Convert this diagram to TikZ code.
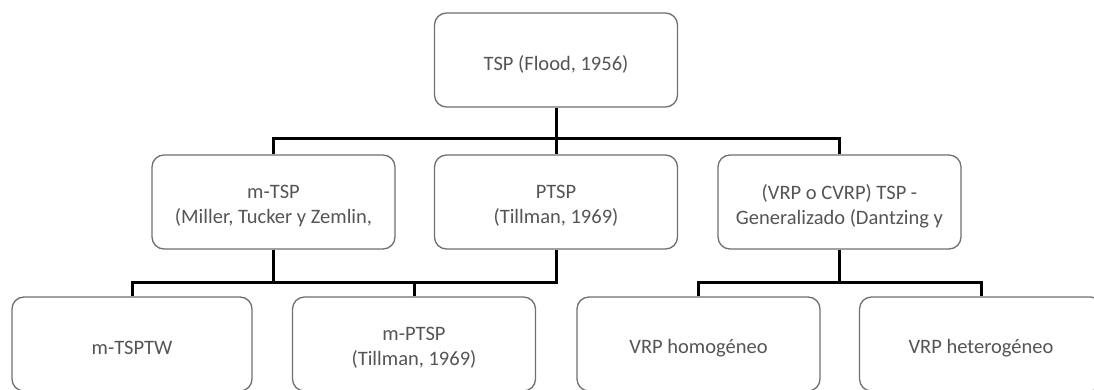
\documentclass[tikz,border=0pt]{standalone}
\usepackage{fontspec}
\setmainfont{Carlito}
\definecolor{txtgray}{HTML}{555555}
\definecolor{boxgray}{HTML}{707070}
\begin{document}
\begin{tikzpicture}[x=1pt,y=-1pt,
  box/.style={draw=boxgray, line width=1.3pt, rounded corners=12pt, fill=white,
    minimum width=243pt, minimum height=94pt, inner sep=0pt,
    label={[lbl]center:#1}},
  lbl/.style={align=center, inner sep=0pt, yshift=-4pt,
    text=txtgray, font=\fontsize{20.5}{25}\selectfont},
  conn/.style={draw=black, line width=3pt, line join=miter}]
\useasboundingbox (0,0) rectangle (1094,390);
\fill[white] (0,0) rectangle (1094,390);
% nodes
\node[box={TSP (Flood, 1956)}] (top) at (556,60) {};
\node[box={m-TSP\\(Miller, Tucker y Zemlin,}] (m1) at (273.5,202) {};
\node[box={PTSP\\(Tillman, 1969)}] (m2) at (556,202) {};
\node[box={(VRP o CVRP) TSP -\\Generalizado (Dantzing y}] (m3) at (839.5,202) {};
\node[box={m-TSPTW}, minimum width=240pt] (b1) at (132,344) {};
\node[box={m-PTSP\\(Tillman, 1969)}] (b2) at (414,344) {};
\node[box={VRP homogéneo}] (b3) at (698.5,344) {};
\node[box={VRP heterogéneo}] (b4) at (981,344) {};
% junctions
\coordinate (j1) at (556,139);
\coordinate (j2) at (273.5,282);
\coordinate (j3) at (839.5,282);
% connectors
\draw[conn] (top.south) -- (j1);
\draw[conn] (m1.north) |- (j1) -| (m3.north);
\draw[conn] (j1) -- (m2.north);
\draw[conn] (m1.south) -- (j2);
\draw[conn] (b1.north) |- (j2) -| (m2.south);
\draw[conn] (b2.north) -- (b2.north |- j2);
\draw[conn] (m3.south) -- (j3);
\draw[conn] (b3.north) |- (j3) -| (b4.north);
\end{tikzpicture}
\end{document}
